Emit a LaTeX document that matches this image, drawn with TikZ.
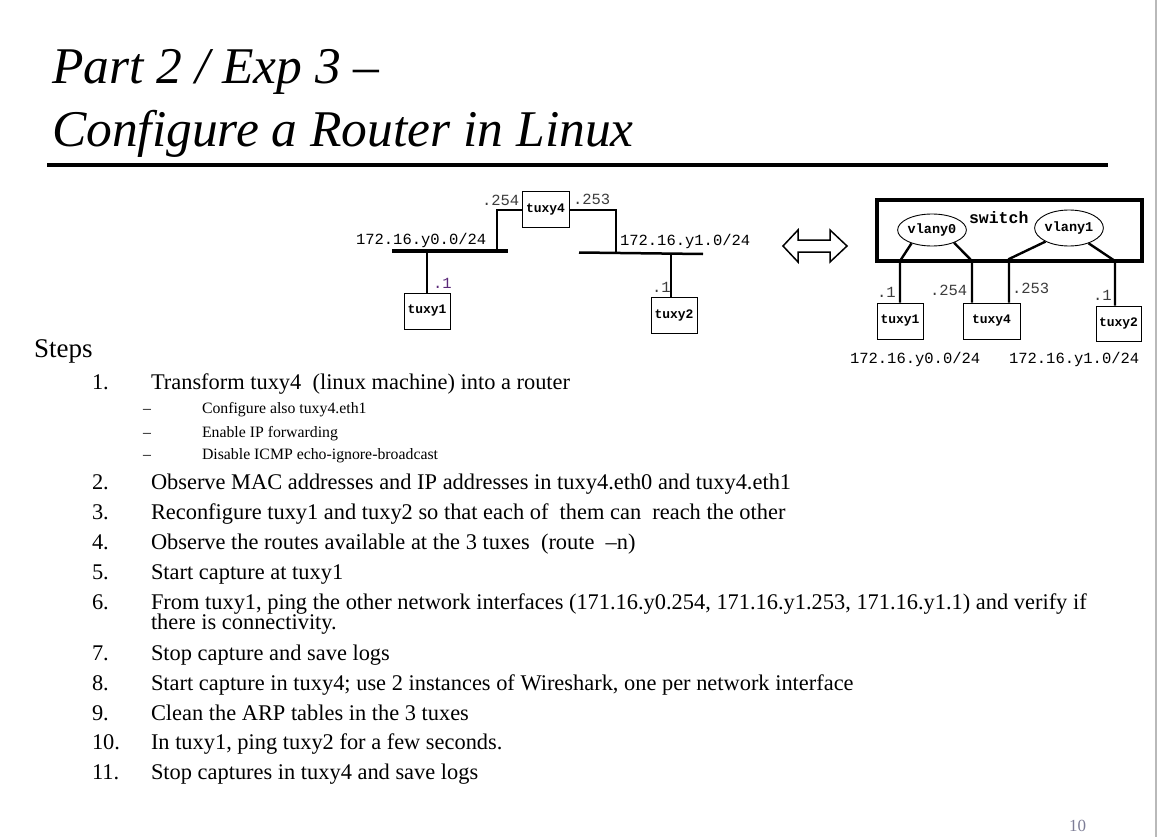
\documentclass[tikz,border=0pt]{standalone}
\usepackage{fontspec}
\setmainfont{Liberation Serif}[ItalicFont={Liberation Serif Italic},BoldFont={Liberation Serif Bold}]
\newfontfamily\rkmono{Liberation Mono}[BoldFont={Liberation Mono Bold}]
\newfontfamily\rktitlefont{LiberationSerif-Italic.ttf}
\usetikzlibrary{shapes.geometric}
\newcommand\rkTitle{\rktitlefont\fontsize{51.5}{56}\selectfont}
\newcommand\rkItem{\fontsize{22.4}{24}\selectfont}
\newcommand\rkSub{\fontsize{15.8}{17}\selectfont}
\newcommand\rkLbl{\rkmono\fontsize{15.5}{17}\selectfont}
\newcommand\rkBox{\rkmono\bfseries\fontsize{13}{14}\selectfont}
\definecolor{portgray}{RGB}{60,60,60}
\definecolor{portpurple}{RGB}{90,40,120}
\definecolor{pagenum}{RGB}{125,125,150}
\begin{document}
\begin{tikzpicture}[x=1pt,y=-1pt,
  txt/.style={anchor=base west,inner sep=0pt,outer sep=0pt},
  itm/.style={txt,font=\rkItem},
  sub/.style={txt,font=\rkSub},
  lbl/.style={txt,font=\rkLbl},
  port/.style={txt,font=\rkLbl,text=portgray},
  host/.style={draw,line width=1pt,rectangle,inner sep=0pt,font=\rkBox},
  vlan/.style={draw,line width=0.9pt,ellipse,inner sep=0pt,font=\rkmono\bfseries\fontsize{13.5}{14}\selectfont},
  wire/.style={line width=2.4pt},
]
\useasboundingbox (0,0) rectangle (1159,837);
% right gray edge
\draw[gray!55,line width=2.5pt] (1156,0) -- (1156,837);

% title
\node[txt,font=\rkTitle] (t1) at (52,84) {Part 2 / Exp 3 –};
\node[txt,font=\rkTitle] (t2) at (52,147) {Configure a Router in Linux};
\draw[line width=4pt] (47,165) -- (1108,165);

% ---------- left diagram ----------
\node[host,minimum width=47pt,minimum height=36pt] (L4) at (545.5,210) {tuxy4};
\node[host,minimum width=46pt,minimum height=36pt] (L1) at (427,311) {tuxy1};
\node[host,minimum width=46pt,minimum height=36pt] (L2) at (674,315) {tuxy2};
\coordinate (b0a) at (392,251);
\coordinate (b0b) at (508,251);
\coordinate (b1a) at (579,252.5);
\coordinate (b1b) at (703,254);
\coordinate (j0) at (497,251);
\coordinate (j1) at (427,251);
\coordinate (j2) at (616,253);
\coordinate (j3) at (671,253.5);
\draw[line width=4pt] (b0a) -- (b0b);
\draw[line width=2.5pt] (b1a) -- (b1b);
\draw[wire] (L4.west) -| (j0);
\draw[wire] (L4.east) -| (j2);
\draw[wire] (j1) -- (L1.north);
\draw[wire] (j3) -- (j3 |- L2.north);
\node[lbl] (n0) at (356,244) {172.16.y0.0/24};
\node[lbl] (n1) at (620,245) {172.16.y1.0/24};
\node[port] (p254) at (482,206) {.254};
\node[port] (p253) at (573,205) {.253};
\node[port,text=portpurple] (p1a) at (433,288) {.1};
\node[port] (p1b) at (652,292) {.1};

% double arrow
\draw[line width=1.5pt,line join=miter] (783,246) -- (798,230) -- (798,240) -- (830,240) -- (830,230) -- (847,246) -- (830,262) -- (830,252) -- (798,252) -- (798,262) -- cycle;

% ---------- right diagram ----------
\node[draw,line width=3.5pt,rectangle,minimum width=265pt,minimum height=61pt,inner sep=0pt] (sw) at (1009.5,230.5) {};
\node[txt,font=\rkmono\bfseries\fontsize{16.5}{18}\selectfont] (swl) at (969,223) {switch};
\node[vlan,minimum width=50pt,minimum height=32pt] (v0) at (932,230) {vlany0};
\node[vlan,minimum width=54pt,minimum height=36pt] (v1) at (1069,228) {vlany1};
\node[host,minimum width=46pt,minimum height=36pt] (R1) at (900,321) {tuxy1};
\node[host,minimum width=57pt,minimum height=36pt] (R4) at (991.5,321) {tuxy4};
\node[host,minimum width=45pt,minimum height=35pt] (R2) at (1118.5,323.5) {tuxy2};
\coordinate (k1) at (900,261);
\coordinate (k2) at (972,261);
\coordinate (k3) at (1009,259);
\coordinate (k4) at (1115,261);
\draw[wire] (v0.213) -- (k1) -- (k1 |- R1.north);
\draw[wire] (v0.330) -- (k2) -- (k2 |- R4.north);
\draw[wire] (v1.210) -- (k3) -- (k3 |- R4.north);
\draw[wire] (v1.322) -- (k4) -- (k4 |- R2.north);
\node[port] (q1a) at (877,297) {.1};
\node[port] (q254) at (930,295) {.254};
\node[port] (q253) at (1012,293) {.253};
\node[port] (q1b) at (1093,300) {.1};
\node[lbl] (m0) at (850,363) {172.16.y0.0/24};
\node[lbl] (m1) at (1009,363) {172.16.y1.0/24};

% ---------- steps ----------
\node[txt,font=\fontsize{27}{29}\selectfont] (steps) at (34,357) {Steps};
\node[itm] (i1n) at (92,389) {1.};
\node[itm] (i1) at (151,389) {Transform tuxy4\ \ (linux machine) into a router};
\node[sub] (s1d) at (143,413) {–};
\node[sub] (s1) at (202,413) {Configure also tuxy4.eth1};
\node[sub] (s2d) at (143,437) {–};
\node[sub] (s2) at (202,437) {Enable IP forwarding};
\node[sub] (s3d) at (143,459) {–};
\node[sub] (s3) at (202,459) {Disable ICMP echo-ignore-broadcast};
\node[itm] (i2n) at (92,489) {2.};
\node[itm] (i2) at (151,489) {Observe MAC addresses and IP addresses in tuxy4.eth0 and tuxy4.eth1};
\node[itm] (i3n) at (92,519) {3.};
\node[itm] (i3) at (151,519) {Reconfigure tuxy1 and tuxy2 so that each of\ \ them can\ \ reach the other};
\node[itm] (i4n) at (92,549) {4.};
\node[itm] (i4) at (151,549) {Observe the routes available at the 3 tuxes\ \ (route\ \ –n)};
\node[itm] (i5n) at (92,579) {5.};
\node[itm] (i5) at (151,579) {Start capture at tuxy1};
\node[itm] (i6n) at (92,609) {6.};
\node[itm] (i6) at (151,609) {From tuxy1, ping the other network interfaces (171.16.y0.254, 171.16.y1.253, 171.16.y1.1) and verify if};
\node[itm] (i6b) at (151,629) {there is connectivity.};
\node[itm] (i7n) at (92,660) {7.};
\node[itm] (i7) at (151,660) {Stop capture and save logs};
\node[itm] (i8n) at (92,690) {8.};
\node[itm] (i8) at (151,690) {Start capture in tuxy4; use 2 instances of Wireshark, one per network interface};
\node[itm] (i9n) at (92,720) {9.};
\node[itm] (i9) at (151,720) {Clean the ARP tables in the 3 tuxes};
\node[itm] (i10n) at (92,749) {10.};
\node[itm] (i10) at (151,749) {In tuxy1, ping tuxy2 for a few seconds.};
\node[itm] (i11n) at (92,779) {11.};
\node[itm] (i11) at (151,779) {Stop captures in tuxy4 and save logs};

\node[txt,font=\fontsize{17}{18}\selectfont,text=pagenum] (pg) at (1069,831) {10};
\end{tikzpicture}
\end{document}
